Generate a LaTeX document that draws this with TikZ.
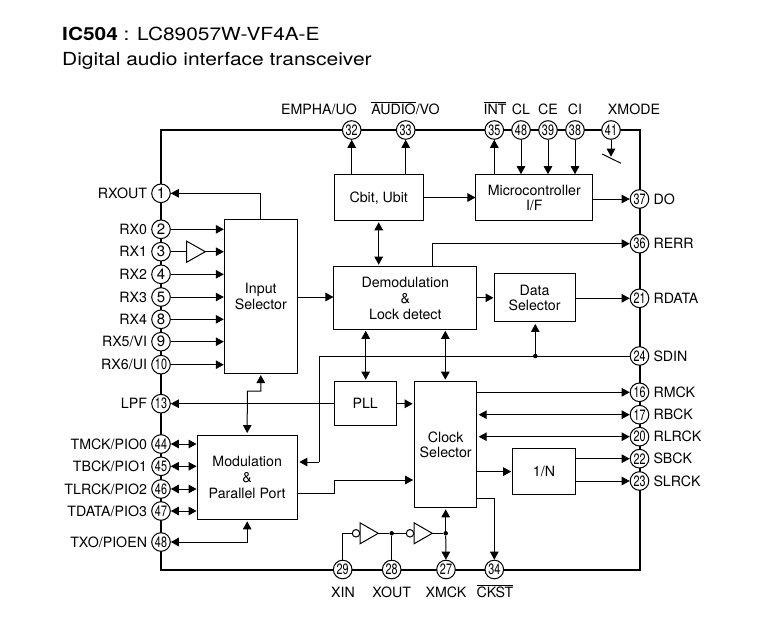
\documentclass[tikz,border=0pt]{standalone}
\usepackage{fontspec}
\usepackage{graphicx}
\setmainfont{TeX Gyre Heros}
\usetikzlibrary{arrows.meta}
\newcommand{\ovl}[1]{$\overline{\mbox{#1}}$}
\newcommand{\two}[1]{\scalebox{.72}[1]{#1}}
\tikzset{
  x=1pt,y=-1pt,
  every node/.style={font=\fontsize{14.2}{16}\selectfont},
  lw/.style={line width=1pt},
  blk/.style={draw,lw,fill=white,align=center,inner sep=0pt,text depth=0pt,font=\fontsize{14.2}{15.2}\selectfont},
  pin/.style={draw,lw,circle,fill=white,inner sep=0pt,minimum size=18.6pt,font=\fontsize{15}{15}\selectfont},
  lleft/.style={anchor=east,inner sep=0pt,xshift=-4pt},
  lright/.style={anchor=west,inner sep=0pt,xshift=4pt},
  ltxt/.style={anchor=base,inner sep=0pt},
  head/.style={anchor=base west,inner sep=0pt,font=\fontsize{18}{20}\selectfont},
  >={Triangle[length=8pt,width=8.5pt]},
  wire/.style={lw},
  gap/.style={shorten >=1.5pt},
  gaps/.style={shorten >=1.5pt,shorten <=1.5pt},
  buf/.style={draw,lw,fill=white},
  dot/.style={circle,fill=black,inner sep=0pt,minimum size=4.5pt},
  bub/.style={circle,draw,lw,fill=white,inner sep=0pt,minimum size=7.5pt},
}
\begin{document}
\begin{tikzpicture}
\useasboundingbox (0,0) rectangle (772,624);
% heading
\node[head] (h1) at (62,40) {\scalebox{1.16}[1]{\textbf{IC504} : LC89057W-VF4A-E}};
\node[head] (h2) at (62,65) {\scalebox{1.165}[1]{Digital audio interface transceiver}};
% frame
\node[draw,line width=2pt,minimum width=478.5pt,minimum height=439.5pt,inner sep=0pt,outer sep=0pt] (frame) at (400.25,349.75) {};
% blocks
\node[blk,minimum width=73pt,minimum height=153.3pt] (input) at (260.8,296.4) {Input\\Selector};
\node[blk,minimum width=89.3pt,minimum height=45.6pt] (cbit) at (378.7,197.5) {Cbit, Ubit};
\node[blk,minimum width=116.7pt,minimum height=45.6pt] (micro) at (534.3,197.5) {Microcontroller\\I/F};
\node[blk,minimum width=142.7pt,minimum height=62.6pt] (demod) at (405.3,298) {Demodulation\\[0.8pt]\&\\[0.8pt]Lock detect};
\node[blk,minimum width=81pt,minimum height=48.3pt] (dsel) at (534.5,297.8) {Data\\Selector};
\node[blk,minimum width=62.3pt,minimum height=44.3pt] (pll) at (365.2,403.8) {PLL};
\node[blk,minimum width=62pt,minimum height=125.6pt] (clock) at (445.7,444.5) {Clock\\Selector};
\node[blk,minimum width=62.6pt,minimum height=45.3pt] (divn) at (544,471.6) {1/N};
\node[blk,minimum width=100.3pt,minimum height=84.3pt] (modu) at (247.2,477.2) {Modulation\\[0.8pt]\&\\[0.8pt]Parallel Port};
% top pins
\node[pin] (p32) at (351.7,130) {\two{32}};
\node[pin] (p33) at (405.7,130) {\two{33}};
\node[pin] (p35) at (494.3,130) {\two{35}};
\node[pin] (pcl) at (521,130) {\two{48}};
\node[pin] (p39) at (548,130) {\two{39}};
\node[pin] (p38) at (575,130) {\two{38}};
\node[pin] (p41) at (611,130) {\two{41}};
\node[ltxt] (l32) at (319,114) {EMPHA/UO};
\node[ltxt] (l33) at (405.5,114) {\ovl{AUDIO}/VO};
\node[ltxt] (l35) at (495,114) {\ovl{INT}};
\node[ltxt] (l48t) at (521,114) {CL};
\node[ltxt] (l39) at (548,114) {CE};
\node[ltxt] (l38) at (575,114) {CI};
\node[ltxt] (l41) at (634,114) {XMODE};
% left pins
\node[pin] (p1) at (161,193.3) {1};
\node[pin] (p2) at (161,229.3) {2};
\node[pin] (p3) at (161,251.7) {3};
\node[pin] (p4) at (161,274.3) {4};
\node[pin] (p5) at (161,297) {5};
\node[pin] (p8) at (161,319.3) {8};
\node[pin] (p9) at (161,341.7) {9};
\node[pin] (p10) at (161,364.7) {\two{10}};
\node[pin] (p13) at (161,403.7) {\two{13}};
\node[pin] (p44) at (161,444) {\two{44}};
\node[pin] (p45) at (161,466.3) {\two{45}};
\node[pin] (p46) at (161,489) {\two{46}};
\node[pin] (p47) at (161,511) {\two{47}};
\node[pin] (p48) at (161,542) {\two{48}};
\node[lleft] (l1) at (p1.west) {RXOUT};
\node[lleft] (l2) at (p2.west) {RX0};
\node[lleft] (l3) at (p3.west) {RX1};
\node[lleft] (l4) at (p4.west) {RX2};
\node[lleft] (l5) at (p5.west) {RX3};
\node[lleft] (l8) at (p8.west) {RX4};
\node[lleft] (l9) at (p9.west) {RX5/VI};
\node[lleft] (l10) at (p10.west) {RX6/UI};
\node[lleft] (l13) at (p13.west) {LPF};
\node[lleft] (l44) at (p44.west) {TMCK/PIO0};
\node[lleft] (l45) at (p45.west) {TBCK/PIO1};
\node[lleft] (l46) at (p46.west) {TLRCK/PIO2};
\node[lleft] (l47) at (p47.west) {TDATA/PIO3};
\node[lleft] (l48) at (p48.west) {TXO/PIOEN};
% right pins
\node[pin] (p37) at (639.5,199) {\two{37}};
\node[pin] (p36) at (639.5,243.7) {\two{36}};
\node[pin] (p21) at (639.5,298.3) {\two{21}};
\node[pin] (p24) at (639.5,356) {\two{24}};
\node[pin] (p16) at (639.5,392.3) {\two{16}};
\node[pin] (p17) at (639.5,414.7) {\two{17}};
\node[pin] (p20) at (639.5,436.7) {\two{20}};
\node[pin] (p22) at (639.5,458.7) {\two{22}};
\node[pin] (p23) at (639.5,481) {\two{23}};
\node[lright] (l37) at (p37.east) {DO};
\node[lright] (l36) at (p36.east) {RERR};
\node[lright] (l21) at (p21.east) {RDATA};
\node[lright] (l24) at (p24.east) {SDIN};
\node[lright] (l16) at (p16.east) {RMCK};
\node[lright] (l17) at (p17.east) {RBCK};
\node[lright] (l20) at (p20.east) {RLRCK};
\node[lright] (l22) at (p22.east) {SBCK};
\node[lright] (l23) at (p23.east) {SLRCK};
% bottom pins
\node[pin] (p29) at (342.7,569.5) {\two{29}};
\node[pin] (p28) at (391.7,569.5) {\two{28}};
\node[pin] (p27) at (446,569.5) {\two{27}};
\node[pin] (p34) at (494.3,569.5) {\two{34}};
\node[ltxt] (l29) at (343,597) {XIN};
\node[ltxt] (l28) at (391.7,597) {XOUT};
\node[ltxt] (l27) at (446,597) {XMCK};
\node[ltxt] (l34) at (495,597) {\ovl{CKST}};
% helper points
\coordinate (dmpll) at (365.7,329.3);
\coordinate (dmclk) at (445.3,329.3);
\coordinate (mo) at (297.3,493.3);
\coordinate (ci) at (414.7,480);
\coordinate (ck) at (476.7,498.3);
\coordinate (sd) at (319.3,462);
% wires
\draw[wire,->] (input.north) |- (p1);
\draw[wire,->] (p2) -- (p2 -| input.west);
\draw[wire,->] (p4) -- (p4 -| input.west);
\draw[wire,->] (p5) -- (p5 -| input.west);
\draw[wire,->] (p8) -- (p8 -| input.west);
\draw[wire,->] (p9) -- (p9 -| input.west);
\draw[wire,->] (p10) -- (p10 -| input.west);
\draw[wire,->] (p3) -- (p3 -| input.west);
\draw[buf] (186.7,241.2) -- (205.3,251.7) -- (186.7,262.2) -- cycle;
\draw[wire,->] (input.east |- p5) -- (demod.west |- p5);
\draw[wire,->] (cbit.north -| p32) -- (p32);
\draw[wire,->] (cbit.north -| p33) -- (p33);
\draw[wire,->] (micro.north -| p35) -- (p35);
\draw[wire,->] (pcl) -- (micro.north -| pcl);
\draw[wire,->] (p39) -- (micro.north -| p39);
\draw[wire,->] (p38) -- (micro.north -| p38);
\coordinate (xm) at (611,156.7);
\draw[wire,->] (p41) -- (xm);
\coordinate (xa) at (602.3,154);
\coordinate (xb) at (621,163.3);
\draw[wire] (xa) -- (xb);
\draw[wire,->] (cbit.east) -- (micro.west);
\draw[wire,->] (micro.east |- p37) -- (p37);
\draw[wire,<->,gaps] (cbit.south) -- (demod.north -| cbit.south);
\draw[wire,->] (432.7,266.7) |- (p36);
\draw[wire,->] (demod.east |- dsel) -- (dsel.west);
\draw[wire,->] (dsel.east |- p21) -- (p21);
\draw[wire] (p24) -- (sd |- p24) -- (sd);
\draw[wire,->,gap] (sd) -- (modu.east |- sd);
\node[dot] (j1) at (535.3,356) {};
\draw[wire,->,gap] (j1) -- (dsel.south -| j1);
\draw[wire,<->,gaps] (dmpll) -- (pll.north -| dmpll);
\draw[wire,<->,gaps] (dmclk) -- (clock.north -| dmclk);
\draw[wire,->] (pll.west |- p13) -- (p13);
\draw[wire,->,gap] (pll.east) -- (clock.west |- pll.east);
\draw[wire,->] (clock.east |- p16) -- (p16);
\draw[wire,<->,shorten <=1.5pt] (clock.east |- p17) -- (p17);
\draw[wire,<->,shorten <=1.5pt] (clock.east |- p20) -- (p20);
\draw[wire,->,shorten >=1pt] (clock.east |- divn) -- (divn.west);
\draw[wire,->] (divn.east |- p22) -- (p22);
\draw[wire,->] (divn.east |- p23) -- (p23);
\draw[wire,->] (ck) -| (p34);
\draw[wire,->,gap] (mo) -- (334,493.3) -- (334,480) -- (ci);
\draw[wire,<->,gaps] (input.south) -- (260.8,391) -- (247.3,391) -- (modu.north);
\draw[wire,<->] (p44) -- (p44 -| modu.west);
\draw[wire,<->] (p45) -- (p45 -| modu.west);
\draw[wire,<->] (p46) -- (p46 -| modu.west);
\draw[wire,<->] (p47) -- (p47 -| modu.west);
\draw[wire,<->,shorten >=1.5pt] (p48) -| (modu.south);
% oscillator
\node[bub] (i1) at (356,533.3) {};
\node[bub] (i2) at (410,533.3) {};
\draw[buf] (360,522.8) -- (378.3,533.3) -- (360,543.8) -- cycle;
\draw[buf] (414,522.8) -- (432.3,533.3) -- (414,543.8) -- cycle;
\node[dot] (j2) at (391.7,533.3) {};
\node[dot] (j3) at (445.7,533.3) {};
\draw[wire] (p29) |- (i1);
\draw[wire] (378.3,533.3) -- (j2) -- (i2);
\draw[wire] (p28) -- (j2);
\draw[wire] (432.3,533.3) -- (j3);
\draw[wire,->,shorten >=1.5pt] (j3) -- (clock.south -| j3);
\draw[wire,->] (j3) -- (p27);
\end{tikzpicture}
\end{document}
